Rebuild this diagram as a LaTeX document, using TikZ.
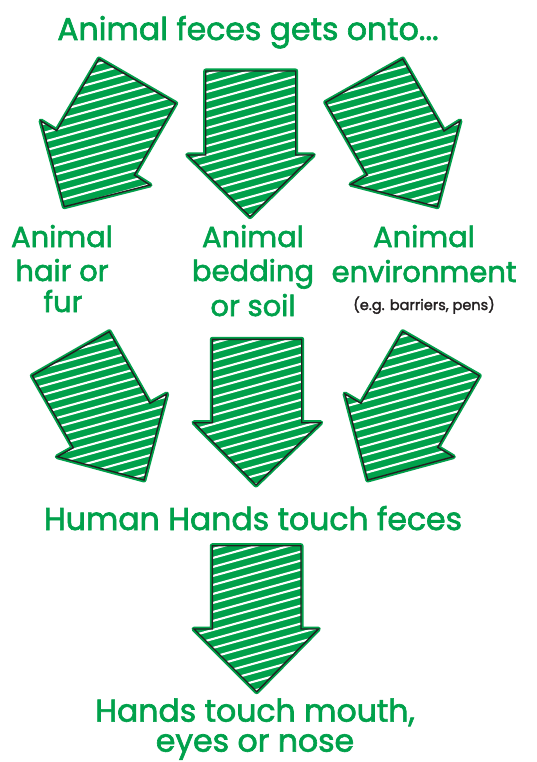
\documentclass[tikz,border=0pt]{standalone}
\usepackage{fontspec}
\setmainfont{Poppins}[FakeBold=2]
\definecolor{fgreen}{RGB}{0,161,75}
\definecolor{fgray}{RGB}{35,31,32}
\tikzset{
  spill/.style={draw=fgreen, fill=fgreen, line width=5pt, line join=round},
  hatch/.style={draw=white, line width=2.1pt, line cap=round},
  outline/.style={draw=fgray, line width=1.4pt, line join=miter},
  lbl/.style={text=fgreen, font=\fontsize{29}{30}\selectfont, anchor=base, inner sep=0pt},
  big/.style={text=fgreen, font=\fontsize{31.5}{30}\selectfont, anchor=base, inner sep=0pt},
  small/.style={text=fgray, font=\fontsize{14.5}{16}\selectfont, anchor=base, inner sep=0pt}
}
\newcommand\harrow[3]{%
  \draw[spill] #1 -- cycle;
  \begin{scope}
    \clip #1 -- cycle;
    \foreach \k in {-17,...,17}{
      \draw[hatch] (#2-130, #3+\k*9+36) -- (#2+130, #3+\k*9-36);
    }
  \end{scope}
  \draw[outline] #1 -- cycle;
}
\begin{document}
\begin{tikzpicture}[x=1pt, y=-1pt]
\useasboundingbox[fill=white] (0,0) rectangle (537,762);

% row 1 arrows
\harrow{(99,59) -- (175.7,103.3) -- (134.3,175) -- (150,185) -- (64.3,206.7) -- (41,121) -- (56.7,130.7)}{108}{133}
\harrow{(205.7,71) -- (295.7,71) -- (295.7,155) -- (313.3,155) -- (250,216.7) -- (187.7,155) -- (205.7,155)}{250}{143}
\harrow{(402.7,59) -- (444,131) -- (460,121) -- (437.3,206.7) -- (351,184.3) -- (367.3,175) -- (325.7,102.3)}{392}{133}

% row 2 arrows
\harrow{(109.3,331.7) -- (150,403.3) -- (166.7,394) -- (144,480) -- (57.3,456.7) -- (73.3,447.7) -- (32.3,375.7)}{100}{406}
\harrow{(212.3,339.3) -- (301.7,339.3) -- (301.7,422.7) -- (320.7,422.7) -- (256,485) -- (194,422.7) -- (212.3,422.7)}{257}{412}
\harrow{(402.7,331.7) -- (479.3,375.7) -- (437.7,447.3) -- (453.3,456.7) -- (367.7,480) -- (345,394) -- (361,403.3)}{412}{406}

% row 3 arrow
\harrow{(212.3,545.7) -- (301,545.7) -- (301,629) -- (318.3,629) -- (256.7,691.7) -- (194,629) -- (212.3,629)}{256}{618}

% texts
\node[big] (title) at (248,40) {Animal feces gets onto...};

\node[lbl] (l1) at (62,247) {Animal};
\node[lbl] (l2) at (62,281) {hair or};
\node[lbl] (l3) at (63,312) {fur};

\node[lbl] (m1) at (253,247) {Animal};
\node[lbl] (m2) at (253,281) {bedding};
\node[lbl] (m3) at (253,316) {or soil};

\node[lbl] (r1) at (424,247) {Animal};
\node[lbl] (r2) at (424,282) {environment};
\node[small] (r3) at (424,310) {(e.g. barriers, pens)};

\node[big] (hh) at (253,530) {Human Hands touch feces};

\node[big, align=center, anchor=south] (bottom) at (255,760) {Hands touch mouth,\\eyes or nose};
\end{tikzpicture}
\end{document}
